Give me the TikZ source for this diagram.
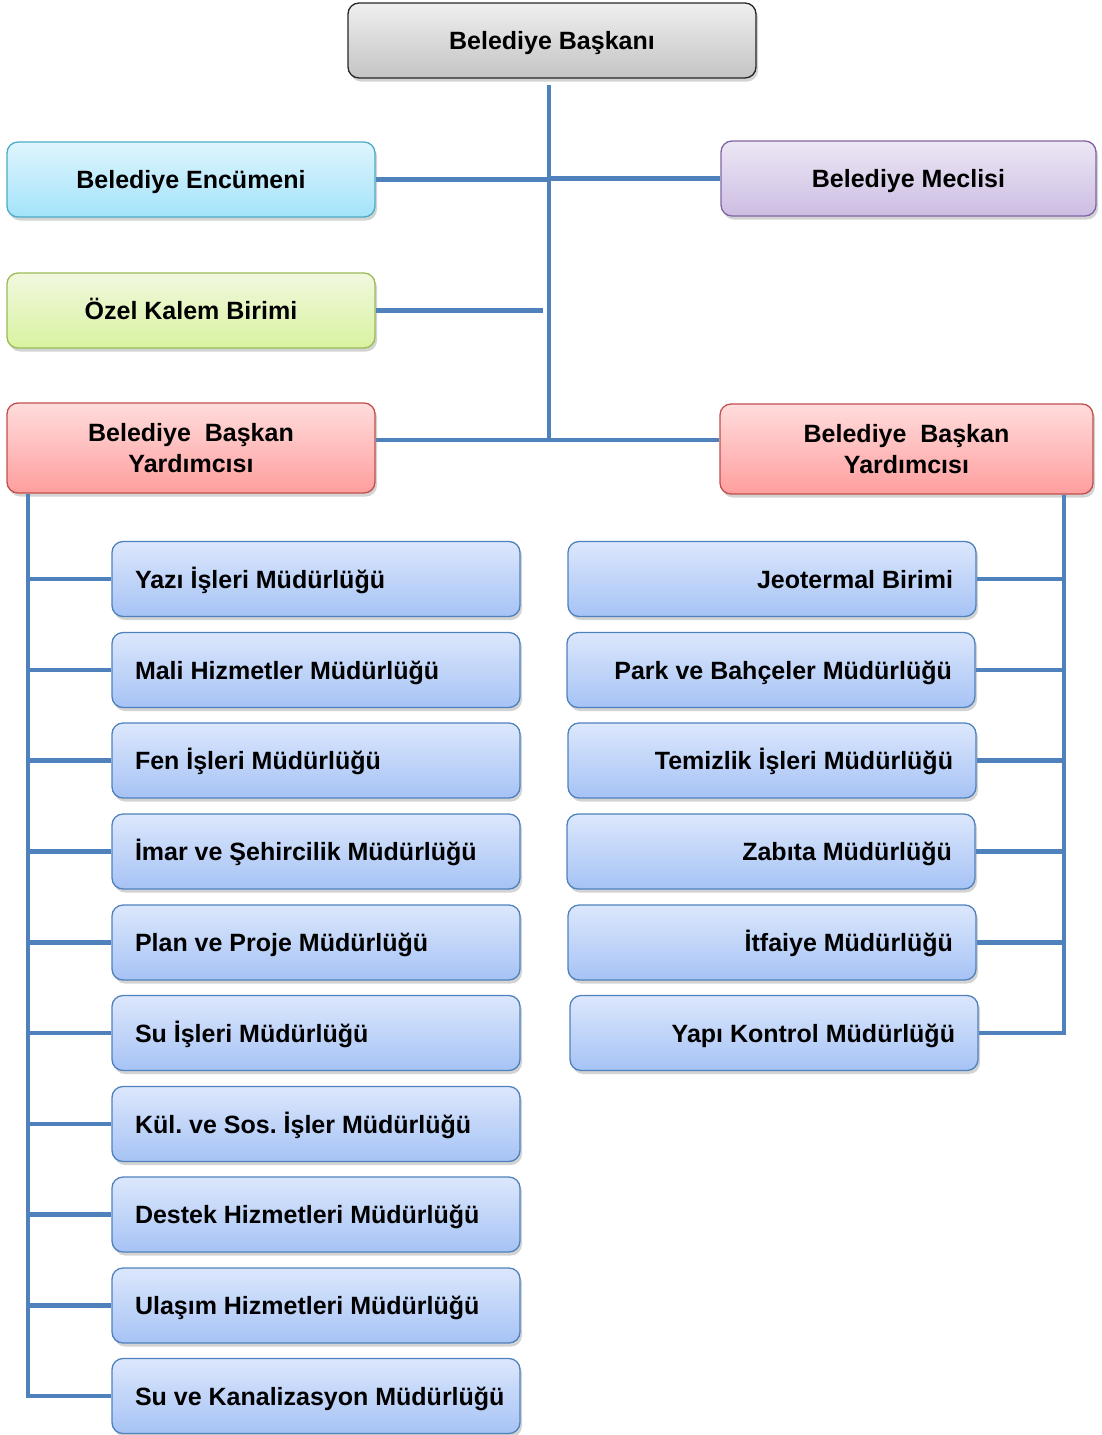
\documentclass[tikz,border=0pt]{standalone}
\usepackage{fontspec}
\setmainfont{Liberation Sans}
\frenchspacing
\usetikzlibrary{shadows}
\definecolor{linkblue}{HTML}{4F81BD}
\definecolor{gtop}{HTML}{EFEFEF}\definecolor{gbot}{HTML}{C4C4C4}
\definecolor{ctop}{HTML}{DFF5FD}\definecolor{cbot}{HTML}{A3E3FA}\definecolor{cbrd}{HTML}{4BACC6}
\definecolor{ptop}{HTML}{EDE7F5}\definecolor{pbot}{HTML}{CCBDE2}\definecolor{pbrd}{HTML}{8064A2}
\definecolor{ltop}{HTML}{F1F8DE}\definecolor{lbot}{HTML}{D8F3A0}\definecolor{lbrd}{HTML}{9BBB59}
\definecolor{rtop}{HTML}{FFDCDC}\definecolor{rbot}{HTML}{FF9E9E}\definecolor{rbrd}{HTML}{C0504D}
\definecolor{btop}{HTML}{DCE7FC}\definecolor{bbot}{HTML}{A6C3F5}
\tikzset{
  basebox/.style={draw, rounded corners=11pt, line width=1.3pt, minimum height=75pt,
    font=\fontsize{25}{31}\selectfont\bfseries, text=black,
    drop shadow={opacity=0.35, shadow xshift=2pt, shadow yshift=-3.5pt}},
  box/.style={basebox, text height=23pt, text depth=5pt},
  graybox/.style={box, draw=black!85, top color=gtop, bottom color=gbot, minimum width=408pt},
  cyanbox/.style={box, draw=cbrd, top color=ctop, bottom color=cbot, minimum width=368pt},
  purplebox/.style={box, draw=pbrd, top color=ptop, bottom color=pbot, minimum width=375pt},
  greenbox/.style={box, draw=lbrd, top color=ltop, bottom color=lbot, minimum width=368pt},
  redbox/.style={basebox, draw=rbrd, top color=rtop, bottom color=rbot, minimum height=90pt, align=center},
  bluebox/.style={box, draw=linkblue, top color=btop, bottom color=bbot,
    minimum width=408pt, inner xsep=23pt},
  link/.style={draw=linkblue, line width=4.5pt}
}
\begin{document}
\begin{tikzpicture}[x=1pt,y=-1pt]
\useasboundingbox (0,0) rectangle (1101,1435);
% top
\node[graybox] (bb) at (552,40.5) {Belediye Başkanı};
\node[cyanbox] (enc) at (191,179.5) {Belediye Encümeni};
\node[purplebox] (mec) at (908.5,178.5) {Belediye Meclisi};
\node[greenbox] (ozk) at (191,310.5) {Özel Kalem Birimi};
\node[redbox, minimum width=368pt] (byL) at (191,448) {Belediye\ \ Başkan\\Yardımcısı};
\node[redbox, minimum width=373pt] (byR) at (906.5,449) {Belediye\ \ Başkan\\Yardımcısı};
% left column
\foreach \n/\y/\t in {1/579/{Yazı İşleri Müdürlüğü},2/670/{Mali Hizmetler Müdürlüğü},
  3/760.5/{Fen İşleri Müdürlüğü},4/851.5/{İmar ve Şehircilik Müdürlüğü},5/942.5/{Plan ve Proje Müdürlüğü},
  6/1033/{Su İşleri Müdürlüğü},7/1124/{Kül. ve Sos. İşler Müdürlüğü},8/1214.5/{Destek Hizmetleri Müdürlüğü},
  9/1305.5/{Ulaşım Hizmetleri Müdürlüğü},10/1396/{Su ve Kanalizasyon Müdürlüğü}}
  \node[bluebox] (L\n) at (316,\y) {\makebox[362pt][l]{\t}};
% right column
\foreach \n/\x/\y/\t in {1/772/579/{Jeotermal Birimi},2/771/670/{Park ve Bahçeler Müdürlüğü},
  3/772/760.5/{Temizlik İşleri Müdürlüğü},4/771/851.5/{Zabıta Müdürlüğü},5/772/942.5/{İtfaiye Müdürlüğü},
  6/774/1033/{Yapı Kontrol Müdürlüğü}}
  \node[bluebox] (R\n) at (\x,\y) {\makebox[362pt][r]{\t}};
% connectors
\coordinate (ctop) at (549,85);
\coordinate (cbot) at (549,440);
\coordinate (lsp) at (28,0);
\coordinate (rsp) at (1064,0);
\draw[link] (ctop) -- (cbot);
\draw[link] (enc.east) -- (enc.east -| ctop);
\draw[link] (mec.west) -- (mec.west -| ctop);
\draw[link] (ozk.east) -- ([xshift=-6pt]ozk.east -| ctop);
\draw[link] (byL.east |- cbot) -- (byR.west |- cbot);
\draw[link] (byL.south -| lsp) -- (lsp |- L10.west) -- (L10.west);
\foreach \n in {1,...,9}
  \draw[link] (L\n.west) -- (L\n.west -| lsp);
\draw[link] (byR.south -| rsp) -- (rsp |- R6.east) -- (R6.east);
\foreach \n in {1,...,5}
  \draw[link] (R\n.east) -- (R\n.east -| rsp);
\end{tikzpicture}
\end{document}
